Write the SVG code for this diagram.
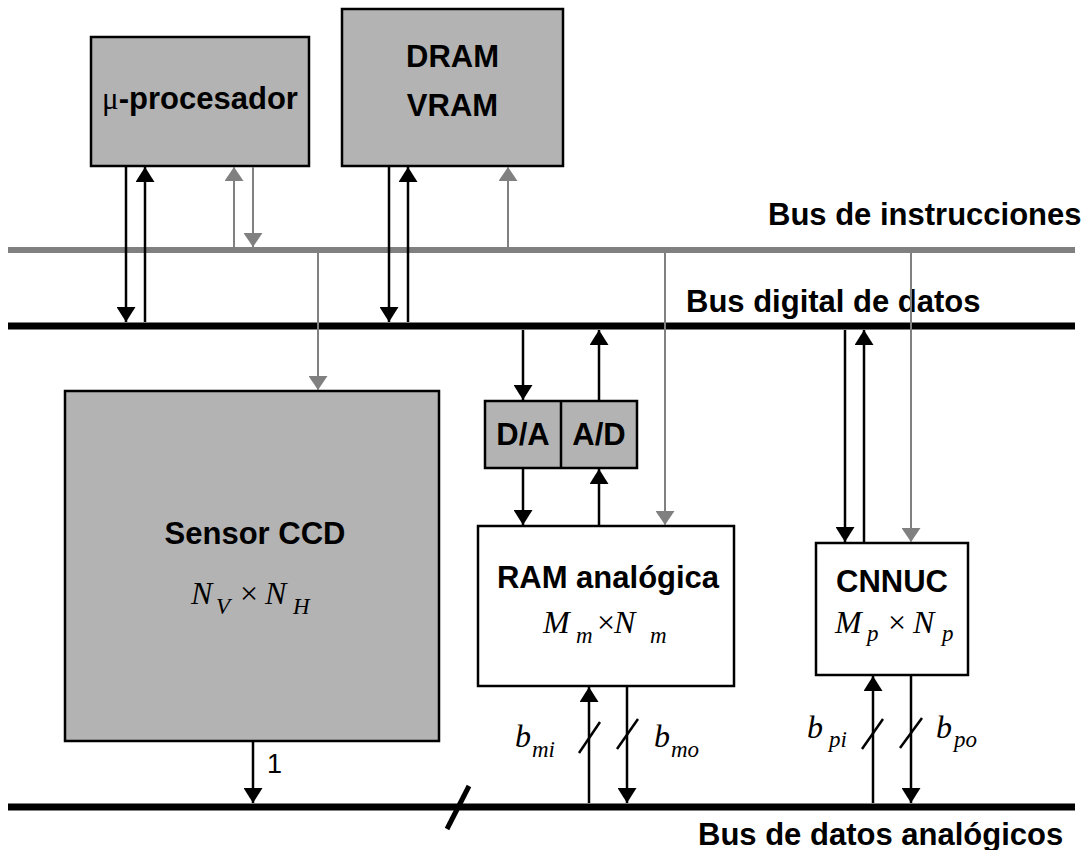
<svg xmlns="http://www.w3.org/2000/svg" width="1090" height="850" viewBox="0 0 1090 850">
<defs>
<marker id="ab" viewBox="0 0 15 19" refX="15" refY="9.5" markerWidth="15" markerHeight="19" orient="auto" markerUnits="userSpaceOnUse"><path d="M0,0 L15,9.5 L0,19 z" fill="#000"/></marker>
<marker id="ag" viewBox="0 0 14 19" refX="14" refY="9.5" markerWidth="14" markerHeight="19" orient="auto" markerUnits="userSpaceOnUse"><path d="M0,0 L14,9.5 L0,19 z" fill="#808080"/></marker>
</defs>
<style>
.box{fill:#b3b3b3;stroke:#000;stroke-width:2.5}
.wbox{fill:#fff;stroke:#000;stroke-width:2.5}
.lbl{font-family:"Liberation Sans",Arial,sans-serif;font-weight:bold;font-size:31px;fill:#000}
.math{font-family:"Liberation Serif","Times New Roman",serif;font-style:italic;font-size:32px;fill:#000}
.sub{font-size:23px}
.op{font-style:normal}
.bk{stroke:#000;stroke-width:2.5;fill:none;marker-end:url(#ab)}
.gy{stroke:#808080;stroke-width:2;fill:none;marker-end:url(#ag)}
.sl{stroke:#000;stroke-width:2.5}
</style>
<g id="buses">
<line x1="8" y1="250" x2="1075" y2="250" stroke="#808080" stroke-width="6"/>
<line x1="8" y1="326" x2="1075" y2="326" stroke="#000" stroke-width="7"/>
<line x1="8" y1="807" x2="1075" y2="807" stroke="#000" stroke-width="7"/>
<line x1="447" y1="829" x2="469" y2="786" stroke="#000" stroke-width="5"/>
<text class="lbl" x="768" y="225">Bus de instrucciones</text>
<text class="lbl" x="686" y="312">Bus digital de datos</text>
<text class="lbl" x="698" y="845">Bus de datos analógicos</text>
</g>
<g id="mu">
<rect class="box" x="91" y="37" width="218" height="129"/>
<text class="lbl" x="200" y="109" text-anchor="middle"><tspan font-family="'Liberation Serif',serif" font-weight="normal">μ</tspan>-procesador</text>
</g>
<g id="dram">
<rect class="box" x="342" y="9" width="221" height="157"/>
<text class="lbl" x="452.5" y="67" text-anchor="middle">DRAM</text>
<text class="lbl" x="452.5" y="116" text-anchor="middle">VRAM</text>
</g>
<g id="sensor">
<rect class="box" x="65" y="391" width="374" height="350"/>
<text class="lbl" x="255" y="544" text-anchor="middle">Sensor CCD</text>
<text class="math"><tspan x="191" y="604">N</tspan><tspan class="sub" x="216" y="614">V</tspan><tspan class="op" x="240" y="604">×</tspan><tspan x="265" y="604">N</tspan><tspan class="sub" x="293" y="614">H</tspan></text>
</g>
<g id="converters">
<rect class="box" x="485" y="401" width="152" height="67"/>
<line x1="561" y1="401" x2="561" y2="468" stroke="#000" stroke-width="2.5"/>
<text class="lbl" x="523" y="445" text-anchor="middle">D/A</text>
<text class="lbl" x="599" y="445" text-anchor="middle">A/D</text>
</g>
<g id="ram">
<rect class="wbox" x="478" y="526" width="256" height="160"/>
<text class="lbl" x="608" y="588" text-anchor="middle">RAM analógica</text>
<text class="math"><tspan x="543" y="633">M</tspan><tspan class="sub" x="576" y="643">m</tspan><tspan class="op" x="597" y="633">×</tspan><tspan x="614" y="633">N</tspan><tspan class="sub" x="650" y="643">m</tspan></text>
</g>
<g id="cnnuc">
<rect class="wbox" x="816" y="543" width="152" height="132"/>
<text class="lbl" x="892" y="592" text-anchor="middle">CNNUC</text>
<text class="math"><tspan x="835" y="633">M</tspan><tspan class="sub" x="867" y="641">p</tspan><tspan class="op" x="888" y="633">×</tspan><tspan x="913" y="633">N</tspan><tspan class="sub" x="942" y="641">p</tspan></text>
</g>
<g id="connectors">
<path class="bk" d="M126,166 L126,322"/>
<path class="bk" d="M145,322 L145,167"/>
<path class="gy" d="M234,247 L234,167"/>
<path class="gy" d="M253,167 L253,247"/>
<path class="bk" d="M389,166 L389,322"/>
<path class="bk" d="M408,322 L408,167"/>
<path class="gy" d="M508,247 L508,167"/>
<path class="gy" d="M318,253 L318,390"/>
<path class="bk" d="M523,330 L523,400"/>
<path class="bk" d="M599,400 L599,330"/>
<path class="bk" d="M523,468 L523,525"/>
<path class="bk" d="M599,525 L599,469"/>
<path class="gy" d="M665,253 L665,525"/>
<path class="bk" d="M845,330 L845,542"/>
<path class="bk" d="M864,542 L864,330"/>
<path class="gy" d="M911,253 L911,542"/>
<path class="bk" d="M589,803 L589,687"/>
<path class="bk" d="M627,687 L627,803"/>
<path class="bk" d="M873,803 L873,676"/>
<path class="bk" d="M911,676 L911,803"/>
<path class="bk" d="M253,742 L253,803"/>
<line class="sl" x1="579" y1="753" x2="600" y2="722"/>
<line class="sl" x1="617" y1="749" x2="638" y2="719"/>
<line class="sl" x1="862" y1="749" x2="883" y2="719"/>
<line class="sl" x1="900" y1="748" x2="922" y2="718"/>
<text x="267" y="773" font-family="'Liberation Sans',Arial,sans-serif" font-size="27">1</text>
<text class="math"><tspan x="515" y="747">b</tspan><tspan class="sub" x="532" y="757">mi</tspan></text>
<text class="math"><tspan x="654" y="747">b</tspan><tspan class="sub" x="671" y="757">mo</tspan></text>
<text class="math"><tspan x="807" y="738">b</tspan><tspan class="sub" x="829" y="747">pi</tspan></text>
<text class="math"><tspan x="936" y="738">b</tspan><tspan class="sub" x="954" y="747">po</tspan></text>
</g>
</svg>
